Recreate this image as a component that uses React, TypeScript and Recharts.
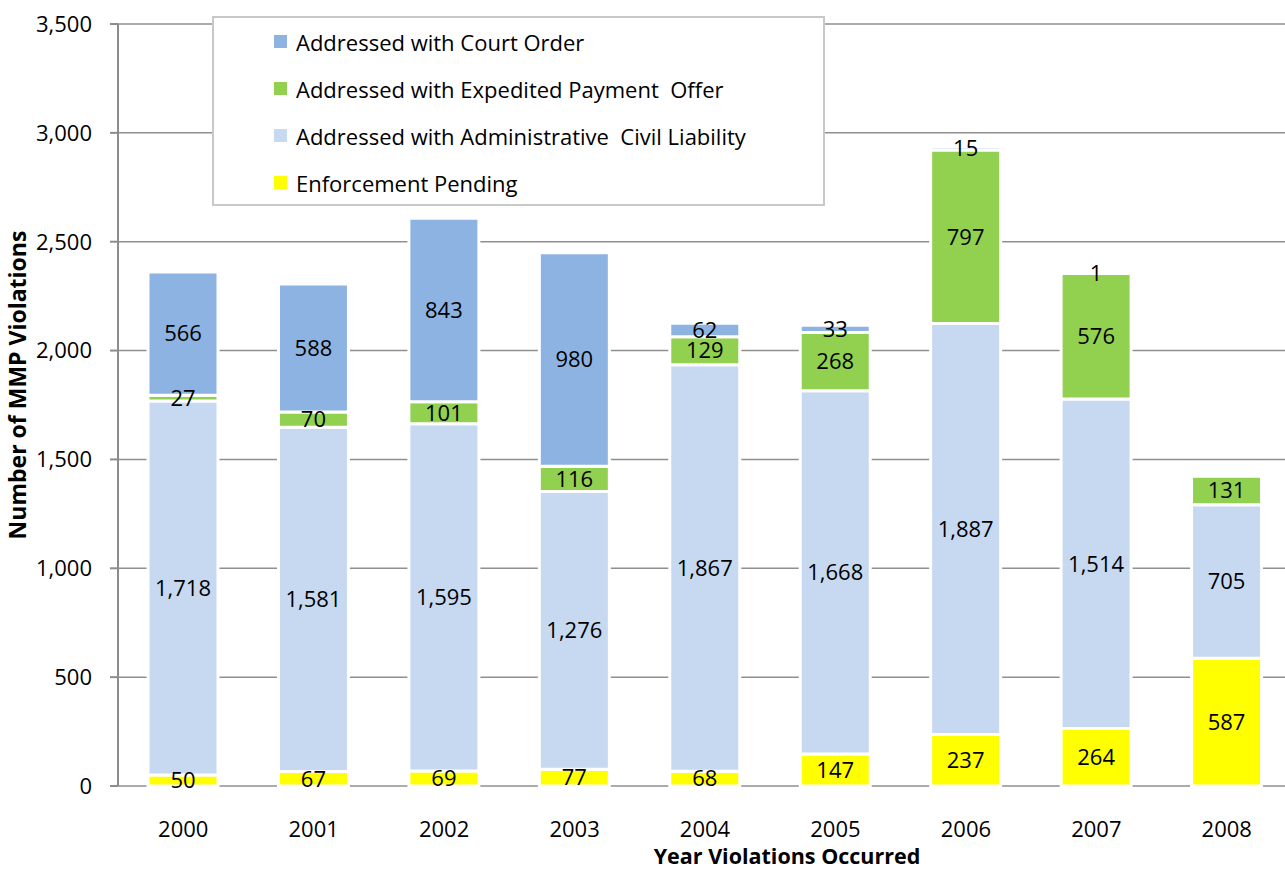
import React from 'react';
import { BarChart, Bar, XAxis, YAxis, CartesianGrid, LabelList, Legend, Label } from 'recharts';

const years = ['2000', '2001', '2002', '2003', '2004', '2005', '2006', '2007', '2008'];
const enforcementPending = [50, 67, 69, 77, 68, 147, 237, 264, 587];
const adminCivilLiability = [1718, 1581, 1595, 1276, 1867, 1668, 1887, 1514, 705];
const expeditedPayment = [27, 70, 101, 116, 129, 268, 797, 576, 131];
const courtOrder = [566, 588, 843, 980, 62, 33, 15, 1, 0];
const yTicks = [0, 500, 1000, 1500, 2000, 2500, 3000, 3500];
const boundaryTicks = [0, 1, 2, 3, 4, 5, 6, 7, 8, 9];

const series = [
  { key: 'pending', name: 'Enforcement Pending', color: '#FFFF00', values: enforcementPending },
  { key: 'acl', name: 'Addressed with Administrative  Civil Liability', color: '#C6D9F1', values: adminCivilLiability },
  { key: 'epo', name: 'Addressed with Expedited Payment  Offer', color: '#92D050', values: expeditedPayment },
  { key: 'court', name: 'Addressed with Court Order', color: '#8DB3E2', values: courtOrder },
];
const legendOrder = ['court', 'epo', 'acl', 'pending'];

const data = years.map((year, i) => {
  const row: any = { year, idx: i + 0.5 };
  series.forEach((s) => { row[s.key] = s.values[i]; });
  return row;
});

const FONT = '"Open Sans", sans-serif';
const fmt = (v: any) => (v === 0 || v == null ? '' : Number(v).toLocaleString('en-US'));

const LegendBox = (props: any) => {
  const payload = props.payload || [];
  const items = legendOrder
    .map((k) => payload.find((p: any) => p.dataKey === k))
    .filter(Boolean);
  return (
    <div style={{ border: '2px solid #c8c8c8', background: '#fff', width: 613, height: 190, boxSizing: 'border-box', paddingTop: 0, paddingLeft: 60, fontFamily: FONT }}>
      {items.map((it: any) => (
        <div key={it.dataKey} style={{ display: 'flex', alignItems: 'center', height: 47, fontSize: 22, color: '#000', whiteSpace: 'pre' }}>
          <span style={{ display: 'inline-block', width: 13, height: 13, background: it.color, marginRight: 9 }} />
          {it.value}
        </div>
      ))}
    </div>
  );
};

export default function App() {
  return (
    <div style={{ position: 'absolute', left: 0, top: 0, width: 1285, height: 869, overflow: 'hidden', background: '#fff' }}>
      <BarChart width={1292} height={869} data={data} margin={{ top: 24, right: 0, left: 0, bottom: 0 }} barCategoryGap="23%">
        <CartesianGrid vertical={false} stroke="#8f8f8f" strokeWidth={1.5} />
        <XAxis xAxisId="bound" type="number" dataKey="idx" domain={[0, 9]} ticks={boundaryTicks} tick={false} height={0}
          axisLine={{ stroke: '#8c8c8c', strokeWidth: 2 }} tickLine={{ stroke: '#8c8c8c', strokeWidth: 2 }} tickSize={8} allowDataOverflow />
        <XAxis dataKey="year" height={83} axisLine={false} tickLine={false} tickSize={0} tickMargin={35} interval={0}
          tick={{ fill: '#000', fontSize: 22, fontFamily: FONT }}>
          <Label content={(p: any) => {
            const vb = p.viewBox;
            return (
              <text x={vb.x + vb.width / 2 + 82} y={vb.y + 78} textAnchor="middle" fontFamily={FONT} fontWeight="bold" fontSize={21.5} fill="#000">
                Year Violations  Occurred
              </text>
            );
          }} />
        </XAxis>
        <YAxis width={118} domain={[0, 3500]} ticks={yTicks} tickFormatter={(v: number) => v.toLocaleString('en-US')}
          axisLine={{ stroke: '#8c8c8c', strokeWidth: 2 }} tickLine={{ stroke: '#8c8c8c', strokeWidth: 2 }} tickSize={8} tickMargin={18}
          tick={{ fill: '#000', fontSize: 22, fontFamily: FONT }}>
          <Label content={(p: any) => {
            const vb = p.viewBox;
            const cx = 26;
            const cy = vb.y + vb.height / 2 - 20;
            return (
              <text x={cx} y={cy} transform={`rotate(-90 ${cx} ${cy})`} textAnchor="middle" fontFamily={FONT} fontWeight="bold" fontSize={23} fill="#000">
                Number of MMP Violations
              </text>
            );
          }} />
        </YAxis>
        <Legend layout="vertical" align="center" verticalAlign="middle" content={<LegendBox />}
          wrapperStyle={{ position: 'absolute', left: 212, top: 16, width: 613, height: 190 }} />
        {series.map((s) => (
          <Bar key={s.key} dataKey={s.key} name={s.name} stackId="a" fill={s.color} stroke="#ffffff" strokeWidth={3} isAnimationActive={false}>
            <LabelList dataKey={s.key} position="center" formatter={fmt} fill="#000" fontSize={22} fontFamily={FONT} />
          </Bar>
        ))}
      </BarChart>
    </div>
  );
}
